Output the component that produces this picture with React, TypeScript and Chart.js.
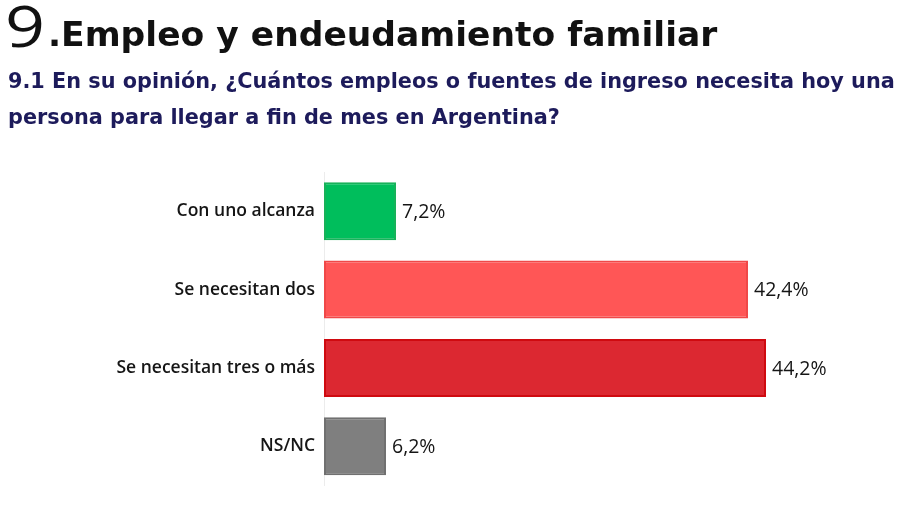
import React, { useEffect, useRef } from "react";
import { Chart, registerables } from "chart.js";

Chart.register(...registerables);

const categories = ["Con uno alcanza", "Se necesitan dos", "Se necesitan tres o más", "NS/NC"];
const values = [7.2, 42.4, 44.2, 6.2];
const valueLabels = ["7,2%", "42,4%", "44,2%", "6,2%"];
const fillColors = ["#00BE5C", "#FF5656", "#DC2831", "#7F7F7F"];
const borderColors = ["#17B25A", "#F04848", "#CF0A10", "#707070"];

const valueLabelPlugin = {
  id: "valueLabels",
  afterDatasetsDraw(chart: any) {
    const ctx = chart.ctx;
    const meta = chart.getDatasetMeta(0);
    ctx.save();
    ctx.font = "500 19.5px 'Open Sans'";
    ctx.fillStyle = "#151515";
    ctx.textAlign = "left";
    ctx.textBaseline = "middle";
    meta.data.forEach((bar: any, i: number) => {
      ctx.fillText(valueLabels[i], bar.x + 6, bar.y + 1);
    });
    ctx.restore();
  },
};

export default function App() {
  const ref = useRef<HTMLCanvasElement | null>(null);

  useEffect(() => {
    if (!ref.current) return;
    const chart = new Chart(ref.current, {
      type: "bar",
      data: {
        labels: categories,
        datasets: [
          {
            data: values,
            backgroundColor: fillColors,
            borderColor: borderColors,
            borderWidth: 2,
            borderSkipped: false,
            categoryPercentage: 1,
            barPercentage: 0.74,
          },
        ],
      },
      options: {
        indexAxis: "y",
        animation: false,
        responsive: false,
        devicePixelRatio: 1,
        layout: { padding: { left: 0, right: 16, top: 172, bottom: 16 } },
        plugins: {
          legend: { display: false },
          tooltip: { enabled: false },
          title: { display: false },
        },
        scales: {
          x: {
            min: 0,
            max: 56,
            display: false,
            grid: { display: false },
          },
          y: {
            afterFit(scale: any) {
              scale.width = 324;
            },
            grid: { display: false, drawTicks: false },
            border: { display: true, color: "#ececec", width: 1 },
            ticks: {
              padding: 9,
              color: "#151515",
              font: { family: "'Open Sans'", size: 17.5, weight: 600 },
            },
          },
        },
      },
      plugins: [valueLabelPlugin],
    });
    return () => chart.destroy();
  }, []);

  return (
    <div
      style={{
        position: "fixed",
        left: 0,
        top: 0,
        width: 900,
        height: 505,
        background: "#ffffff",
        overflow: "hidden",
      }}
    >
      <canvas ref={ref} width={900} height={505} style={{ position: "absolute", left: 0, top: 0 }} />
      <div
        style={{
          position: "absolute",
          left: 5,
          top: -3,
          whiteSpace: "nowrap",
          color: "#111111",
          fontFamily: "'Open Sans'",
          fontSize: 56,
          fontWeight: 400,
          lineHeight: "56px",
          transform: "scaleX(1.25)",
          transformOrigin: "left top",
        }}
      >
        9
      </div>
      <div
        style={{
          position: "absolute",
          left: 48,
          top: 16,
          whiteSpace: "nowrap",
          color: "#111111",
          fontFamily: "'DejaVu Sans'",
          fontSize: 34.5,
          fontWeight: 700,
          lineHeight: "36px",
        }}
      >
        .Empleo y endeudamiento familiar
      </div>
      <div
        style={{
          position: "absolute",
          left: 8,
          top: 63,
          whiteSpace: "nowrap",
          color: "#1D1B5B",
          fontFamily: "'DejaVu Sans'",
          fontSize: 20.8,
          fontWeight: 700,
          lineHeight: "36px",
        }}
      >
        <div>9.1 En su opinión, ¿Cuántos empleos o fuentes de ingreso necesita hoy una</div>
        <div>persona para llegar a fin de mes en Argentina?</div>
      </div>
    </div>
  );
}
